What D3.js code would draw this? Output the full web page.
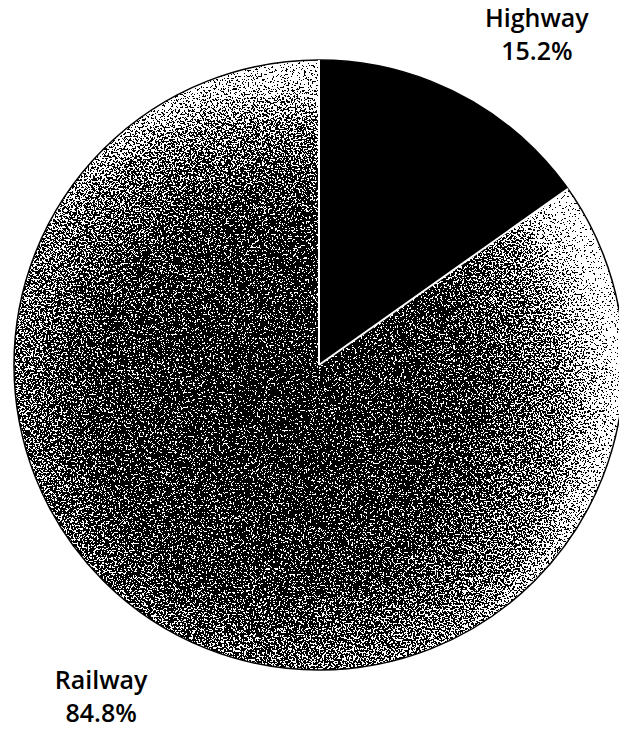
<!DOCTYPE html>
<html>
<head>
<meta charset="utf-8">
<script src="https://cdn.jsdelivr.net/npm/d3@7"></script>
<style>
  body { margin: 0; background: #fff; }
  svg { display: block; }
  text { font-family: "Open Sans", Lato, sans-serif; fill: #000; }
</style>
</head>
<body>
<svg id="chart" width="619" height="731"></svg>
<script>
const categories = ["Highway", "Railway"];
const shares = [15.2, 84.8];
const labels = ["15.2%", "84.8%"];

const width = 619, height = 731;
const cx = 319, cy = 365, radius = 305;

const svg = d3.select("#chart");
const defs = svg.append("defs");

// speckled grey fill, like the scanned print (coords are local to the pie group)
const grad = defs.append("radialGradient")
  .attr("id", "shade")
  .attr("gradientUnits", "userSpaceOnUse")
  .attr("cx", -40).attr("cy", 40).attr("r", radius + 40);
grad.append("stop").attr("offset", 0).attr("stop-color", "#4a4a4a");
grad.append("stop").attr("offset", 0.55).attr("stop-color", "#555");
grad.append("stop").attr("offset", 0.82).attr("stop-color", "#7a7a7a");
grad.append("stop").attr("offset", 1).attr("stop-color", "#c4c4c4");

const filt = defs.append("filter")
  .attr("id", "grain")
  .attr("color-interpolation-filters", "sRGB")
  .attr("x", 0).attr("y", 0).attr("width", 1).attr("height", 1);
filt.append("feTurbulence")
  .attr("type", "fractalNoise")
  .attr("baseFrequency", 0.55)
  .attr("numOctaves", 3)
  .attr("seed", 7)
  .attr("result", "n");
filt.append("feColorMatrix")
  .attr("in", "n")
  .attr("type", "matrix")
  .attr("values", "1 0 0 0 0  1 0 0 0 0  1 0 0 0 0  0 0 0 0 1")
  .attr("result", "g");
filt.append("feComposite")
  .attr("in", "SourceGraphic").attr("in2", "g")
  .attr("operator", "arithmetic")
  .attr("k1", 0).attr("k2", 1).attr("k3", 1.6).attr("k4", -0.8)
  .attr("result", "sum");
const ct = filt.append("feComponentTransfer").attr("in", "sum").attr("result", "bw");
["feFuncR", "feFuncG", "feFuncB"].forEach(f =>
  ct.append(f).attr("type", "discrete").attr("tableValues", "0 1"));
filt.append("feComposite").attr("in", "bw").attr("in2", "SourceGraphic").attr("operator", "in");

const pie = d3.pie().sort(null).value(d => d)(shares);
const arc = d3.arc().innerRadius(0).outerRadius(radius);

const g = svg.append("g").attr("transform", "translate(" + cx + "," + cy + ")");

g.selectAll("path.slice")
  .data(pie)
  .join("path")
  .attr("class", "slice")
  .attr("d", arc)
  .attr("fill", (d, i) => i == 0 ? "#000" : "url(#shade)")
  .attr("filter", (d, i) => i == 0 ? null : "url(#grain)");

// outline + white separators
g.append("circle").attr("r", radius).attr("fill", "none").attr("stroke", "#000").attr("stroke-width", 1.5);
g.selectAll("line.sep")
  .data(pie)
  .join("line")
  .attr("class", "sep")
  .attr("x1", 0).attr("y1", 0)
  .attr("x2", d => radius * Math.sin(d.startAngle))
  .attr("y2", d => -radius * Math.cos(d.startAngle))
  .attr("stroke", "#fff")
  .attr("stroke-width", 2);

// labels sit outside the pie
const labelArc = d3.arc().innerRadius(396).outerRadius(396);
const lab = g.selectAll("g.lab")
  .data(pie)
  .join("g")
  .attr("class", "lab")
  .attr("transform", d => {
    let a = (d.startAngle + d.endAngle) / 2 + 0.105;
    let c = labelArc.centroid({ startAngle: a, endAngle: a });
    return "translate(" + c[0] + "," + c[1] + ")";
  });
lab.append("text")
  .attr("text-anchor", "middle")
  .attr("y", -7)
  .style("font-size", "25px")
  .style("font-weight", 600)
  .text((d, i) => categories[i]);
lab.append("text")
  .attr("text-anchor", "middle")
  .attr("y", 26)
  .style("font-size", "25px")
  .style("font-weight", 600)
  .text((d, i) => labels[i]);
</script>
</body>
</html>
